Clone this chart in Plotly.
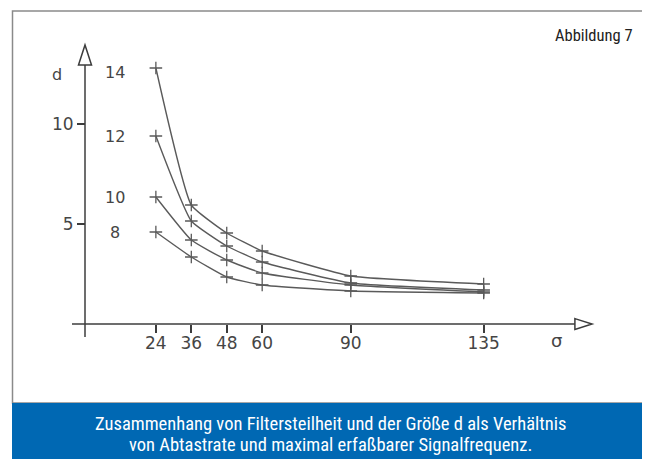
import plotly.graph_objects as go

# ---- data ----
sigma = [24, 36, 48, 60, 90, 135]
d_8 = [4.6, 3.35, 2.35, 1.95, 1.65, 1.55]
d_10 = [6.35, 4.2, 3.2, 2.55, 1.95, 1.6]
d_12 = [9.4, 5.15, 3.9, 3.1, 2.05, 1.7]
d_14 = [12.8, 5.95, 4.55, 3.65, 2.4, 2.0]
curve_names = ["8", "10", "12", "14"]
curves = [d_8, d_10, d_12, d_14]
x_ticks = [24, 36, 48, 60, 90, 135]
y_ticks = [5, 10]
caption_lines = [
    "Zusammenhang von Filtersteilheit und der Größe d als Verhältnis",
    "von Abtastrate und maximal erfaßbarer Signalfrequenz.",
]
figure_label = "Abbildung 7"

# ---- geometry (page body has an 8px margin, so the figure is shifted) ----
OFF = 8
W, H = 650 - OFF, 459 - OFF
ML, MR, MT, MB = 32, 30, 22, 79
PW, PH = W - ML - MR, H - MT - MB
# window-pixel positions of the plot area
PX_L, PX_R = OFF + ML, OFF + W - MR
PX_T, PX_B = OFF + MT, OFF + H - MB
# data-to-window scale: sigma=0 at x=85 (2.953 px/unit), d=0 at y=324 (20 px/unit)
X_RANGE = [(PX_L - 85) / 2.953, (PX_R - 85) / 2.953]
Y_RANGE = [(324 - PX_B) / 20.0, (324 - PX_T) / 20.0]


def px_x(p):
    return (p - PX_L) / PW


def px_y(p):
    return (PX_B - p) / PH


INK = "#3c3c3c"
LINE = "#5a5a5a"
DRAW_FONT = dict(family="DejaVu Sans, Lato, sans-serif", size=16, color="#454545")
TICK_FONT = dict(family="DejaVu Sans, Lato, sans-serif", size=17, color="#454545")
CAP_FONT = "Liberation Sans Narrow, Roboto Condensed, Arial Narrow, Liberation Sans, sans-serif"
BLUE = "#0068b3"

fig = go.Figure()

for name, ys in zip(curve_names, curves):
    fig.add_trace(go.Scatter(
        x=sigma, y=ys, mode="lines+markers", name=name,
        line=dict(color=LINE, width=1.4, shape="spline", smoothing=0.4),
        marker=dict(symbol="cross-thin", size=9, line=dict(width=1.3, color=LINE)),
        showlegend=False, hoverinfo="x+y",
    ))

shapes = []
# axis lines
shapes.append(dict(type="line", xref="x", yref="y", x0=-4.4, x1=166.0, y0=0, y1=0,
                   line=dict(color=INK, width=1.5)))
shapes.append(dict(type="line", xref="x", yref="y", x0=0, x1=0, y0=-0.65, y1=12.95,
                   line=dict(color=INK, width=1.5)))
# open arrow heads
shapes.append(dict(type="path", xref="x", yref="y",
                   path="M 165.9,0.27 L 171.7,0 L 165.9,-0.27 Z",
                   fillcolor="white", line=dict(color=INK, width=1.5)))
shapes.append(dict(type="path", xref="x", yref="y",
                   path="M -2.2,12.95 L 0,13.95 L 2.2,12.95 Z",
                   fillcolor="white", line=dict(color=INK, width=1.5)))
# frame
shapes.append(dict(type="rect", xref="paper", yref="paper",
                   x0=px_x(12.5), x1=px_x(648), y0=px_y(403), y1=px_y(11),
                   line=dict(color="#8a8a8a", width=1.5), fillcolor="rgba(0,0,0,0)"))
# caption bar
shapes.append(dict(type="rect", xref="paper", yref="paper",
                   x0=px_x(12), x1=px_x(650), y0=px_y(459), y1=px_y(403),
                   line=dict(width=0), fillcolor=BLUE))

annotations = []
# axis names
annotations.append(dict(x=-9.5, y=12.5, xref="x", yref="y", text="d", showarrow=False,
                        font=DRAW_FONT))
annotations.append(dict(x=159.8, y=-0.8, xref="x", yref="y", text="σ", showarrow=False,
                        font=dict(family=DRAW_FONT["family"], size=18, color="#454545")))
# curve labels, left of first point
for name, ys in zip(curve_names, curves):
    annotations.append(dict(x=10.2, y=ys[0] - (0.2 if name == "14" else 0.0), xref="x", yref="y",
                            text=name, showarrow=False, font=DRAW_FONT))
# figure number
annotations.append(dict(x=px_x(635), y=px_y(36), xref="paper", yref="paper",
                        text=figure_label, showarrow=False, xanchor="right", yanchor="middle",
                        font=dict(family=CAP_FONT, size=16.5, color="#222222")))
# caption
for i, line in enumerate(caption_lines):
    annotations.append(dict(x=px_x(331), y=px_y(424 + 21 * i), xref="paper", yref="paper",
                            text=line, showarrow=False, xanchor="center", yanchor="middle",
                            font=dict(family=CAP_FONT, size=18.5, color="white")))

fig.update_layout(
    width=W, height=H,
    margin=dict(l=ML, r=MR, t=MT, b=MB, pad=0),
    paper_bgcolor="white", plot_bgcolor="white",
    shapes=shapes, annotations=annotations,
    xaxis=dict(range=X_RANGE, showgrid=False, zeroline=False, showline=False,
               tickvals=x_ticks, ticks="outside", ticklen=8, tickwidth=1.5, tickcolor=INK,
               tickfont=TICK_FONT, anchor="free", position=px_y(324),
               ticklabelstandoff=-4, fixedrange=True),
    yaxis=dict(range=Y_RANGE, showgrid=False, zeroline=False, showline=False,
               tickvals=y_ticks, ticks="outside", ticklen=8, tickwidth=1.5, tickcolor=INK,
               tickfont=TICK_FONT, anchor="free", position=px_x(85),
               fixedrange=True),
)

fig.write_html("out.html")
